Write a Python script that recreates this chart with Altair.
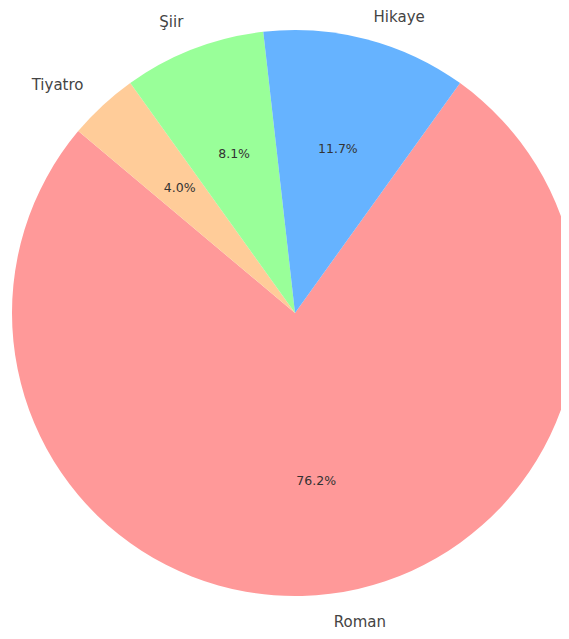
import math
import altair as alt
import pandas as pd

categories = ["Roman", "Tiyatro", "Şiir", "Hikaye"]
shares = [76.2, 4.0, 8.1, 11.7]
colors = ["#ff9999", "#ffcc99", "#99ff99", "#66b3ff"]
sides = ["right", "left", "left", "top"]

df = pd.DataFrame({
    "kategori": categories,
    "pay": shares,
    "sira": list(range(len(categories))),
    "taraf": sides,
})

start = math.radians(35.68)
theta_scale = alt.Scale(domain=[0, 100], range=[start, start + 2 * math.pi])
cx, cy, R = 287, 305, 283

base = alt.Chart(df).transform_window(
    bitis="sum(pay)", sort=[alt.SortField("sira")], frame=[None, 0]
).transform_calculate(
    basla="datum.bitis - datum.pay",
    orta="datum.bitis - datum.pay / 2",
    etiket="format(datum.pay, '.1f') + '%'",
)

arcs = base.mark_arc(outerRadius=R, stroke=None).encode(
    theta=alt.Theta("basla:Q", scale=theta_scale, stack=None),
    theta2="bitis:Q",
    color=alt.Color("kategori:N", scale=alt.Scale(domain=categories, range=colors), legend=None),
    x=alt.value(cx),
    y=alt.value(cy),
)

pct = base.mark_text(radius=R * 0.6, font="DejaVu Sans", fontSize=12.5, color="#333333").encode(
    theta=alt.Theta("orta:Q", scale=theta_scale, stack=None),
    text="etiket:N",
    x=alt.value(cx),
    y=alt.value(cy),
)


def label_layer(side, align, dy=0):
    return base.transform_filter(f"datum.taraf == '{side}'").mark_text(
        radius=R * 1.1, font="DejaVu Sans", fontSize=15, color="#444444",
        align=align, baseline="middle", dy=dy
    ).encode(
        theta=alt.Theta("orta:Q", scale=theta_scale, stack=None),
        text="kategori:N",
        x=alt.value(cx),
        y=alt.value(cy),
    )


lab_right = label_layer("right", "left")
lab_top = label_layer("top", "left", dy=5)
lab_left = label_layer("left", "right")

chart = alt.layer(arcs, pct, lab_right, lab_top, lab_left).properties(
    width=553, height=623, padding=0, autosize=alt.AutoSizeParams(type="none")
).configure_view(stroke=None)

chart.save("out.html", embed_options={"renderer": "svg", "actions": False})
